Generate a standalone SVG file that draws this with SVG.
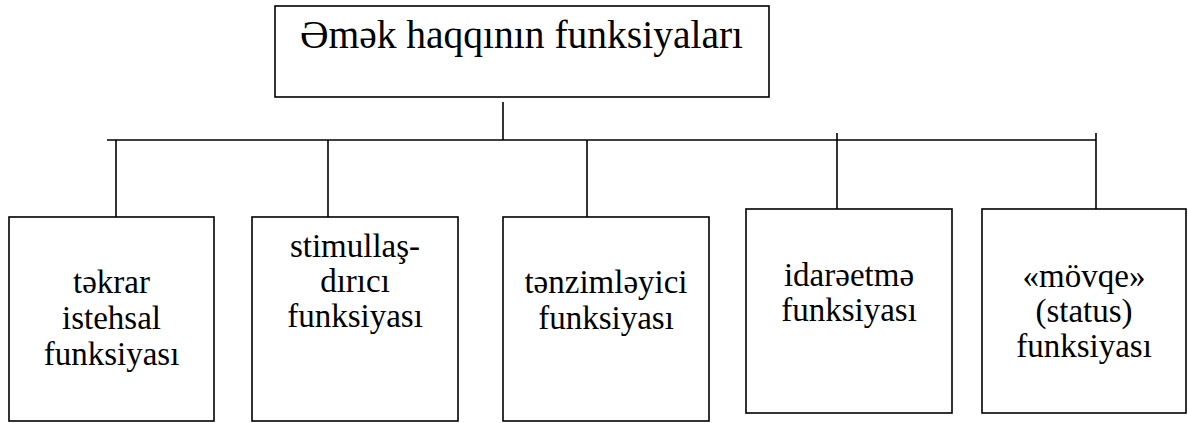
<svg xmlns="http://www.w3.org/2000/svg" width="1188" height="423" viewBox="0 0 1188 423">
<style>
.box{fill:#fff;stroke:#000;stroke-width:1.6}
.ln{stroke:#000;stroke-width:1.6;fill:none}
text{font-family:'Liberation Serif','Times New Roman',serif;fill:#000;text-anchor:middle}
.t{font-size:33px}
.title{font-size:39.5px}
</style>
<rect width="1188" height="423" fill="#fff"/>
<g id="connectors">
<line class="ln" x1="503" y1="102" x2="503" y2="140"/>
<line class="ln" x1="107" y1="140" x2="1096" y2="140"/>
<line class="ln" x1="116" y1="140" x2="116" y2="217"/>
<line class="ln" x1="328" y1="140" x2="328" y2="217"/>
<line class="ln" x1="587" y1="140" x2="587" y2="217"/>
<line class="ln" x1="837" y1="133" x2="837" y2="209"/>
<line class="ln" x1="1096" y1="133" x2="1096" y2="209"/>
</g>
<g id="root">
<rect class="box" x="275" y="6" width="494" height="91"/>
<text class="title" x="521.5" y="48">Əmək haqqının funksiyaları</text>
</g>
<g id="n1">
<rect class="box" x="9" y="217" width="205" height="204"/>
<text class="t" x="111.5" y="293">təkrar</text>
<text class="t" x="111.5" y="329">istehsal</text>
<text class="t" x="111.5" y="365">funksiyası</text>
</g>
<g id="n2">
<rect class="box" x="252" y="217" width="206" height="204"/>
<text class="t" x="355" y="257">stimullaş-</text>
<text class="t" x="355" y="292">dırıcı</text>
<text class="t" x="355" y="327">funksiyası</text>
</g>
<g id="n3">
<rect class="box" x="503" y="217" width="206" height="204"/>
<text class="t" x="606" y="293">tənzimləyici</text>
<text class="t" x="606" y="329">funksiyası</text>
</g>
<g id="n4">
<rect class="box" x="746" y="209" width="206" height="204"/>
<text class="t" x="849" y="286">idarəetmə</text>
<text class="t" x="849" y="321">funksiyası</text>
</g>
<g id="n5">
<rect class="box" x="982" y="209" width="204" height="204"/>
<text class="t" x="1084" y="287">«mövqe»</text>
<text class="t" x="1084" y="322">(status)</text>
<text class="t" x="1084" y="357">funksiyası</text>
</g>
</svg>
